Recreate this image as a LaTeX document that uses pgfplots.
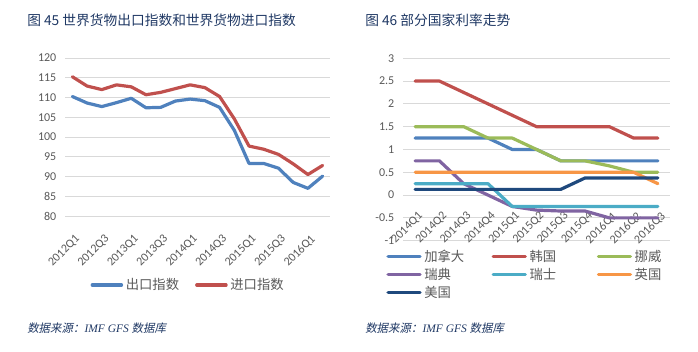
\documentclass[border=0pt]{standalone}
\usepackage{pgfplots}
\pgfplotsset{compat=1.18}
\usepackage{fontspec}
\setmainfont{Carlito}
\newfontfamily\cjk{Noto Sans CJK SC}
\newfontfamily\cjkslant[FakeSlant=0.2]{Noto Sans CJK SC}
\newfontfamily\serifit{Liberation Serif}
\definecolor{ttl}{RGB}{31,56,100}
\definecolor{tk}{RGB}{89,89,89}
\definecolor{grd}{RGB}{217,217,217}
\definecolor{cblue}{RGB}{79,129,189}
\definecolor{cred}{RGB}{192,80,77}
\definecolor{cgreen}{RGB}{155,187,89}
\definecolor{cpurple}{RGB}{128,100,162}
\definecolor{cteal}{RGB}{75,172,198}
\definecolor{corange}{RGB}{247,150,70}
\definecolor{cnavy}{RGB}{31,73,125}
\begin{document}
\begin{tikzpicture}
\path[use as bounding box] (0,0) rectangle (523.5pt,264pt);
\node[anchor=west,text=ttl,inner sep=0pt,font=\cjk\fontsize{10.3}{12}\selectfont] at (20.25pt,248.5pt) {图 45 世界货物出口指数和世界货物进口指数};
\node[anchor=west,text=ttl,inner sep=0pt,font=\cjk\fontsize{10.3}{12}\selectfont] at (273.75pt,248.5pt) {图 46 部分国家利率走势};
\node[anchor=west,text=ttl,inner sep=0pt,font=\fontsize{8.6}{10}\selectfont] at (20.25pt,18pt) {{\cjkslant 数据来源：}{\serifit\itshape IMF GFS }{\cjkslant 数据库}};
\node[anchor=west,text=ttl,inner sep=0pt,font=\fontsize{8.6}{10}\selectfont] at (273.75pt,18pt) {{\cjkslant 数据来源：}{\serifit\itshape IMF GFS }{\cjkslant 数据库}};

\begin{axis}[
  at={(48.75pt,102pt)}, anchor=south west,
  scale only axis, width=198.75pt, height=118.5pt,
  xmin=-0.5, xmax=17.5, ymin=80, ymax=120,
  axis line style={draw=none}, major tick length=0pt,
  ymajorgrids, grid style={grd, line width=0.6pt},
  ytick={80,85,...,120},
  xtick={0,2,...,16},
  xticklabels={2012Q1,2012Q3,2013Q1,2013Q3,2014Q1,2014Q3,2015Q1,2015Q3,2016Q1},
  tick label style={font=\fontsize{9}{10}\selectfont, text=tk},
  yticklabel style={/pgf/number format/assume math mode=true, xshift=-3pt},
  xticklabel style={xshift=1.5pt, yshift=-8.5pt, rotate=45, anchor=north east},
  legend columns=2,
  legend style={draw=none, fill=none, at={(0.466,-0.437)}, anchor=center,
    font=\cjk\fontsize{10}{12}\selectfont, text=tk,
    /tikz/every even column/.append style={column sep=10pt}},
  legend image code/.code={\draw[#1,line width=2.4pt,line cap=round] (0pt,0pt) -- (22pt,0pt);},
  every axis plot/.append style={line width=2.4pt, line join=round, line cap=round},
]
\addplot[cblue] coordinates {(0,110.25)(1,108.6)(2,107.7)(3,108.7)(4,109.8)(5,107.4)(6,107.5)(7,109.1)(8,109.6)(9,109.2)(10,107.5)(11,101.7)(12,93.3)(13,93.3)(14,92.1)(15,88.5)(16,87.0)(17,90.1)};
\addlegendentry{出口指数}
\addplot[cred] coordinates {(0,115.25)(1,112.9)(2,112.0)(3,113.2)(4,112.7)(5,110.7)(6,111.3)(7,112.25)(8,113.2)(9,112.5)(10,110.25)(11,104.6)(12,97.7)(13,96.9)(14,95.6)(15,93.2)(16,90.5)(17,92.8)};
\addlegendentry{进口指数}
\end{axis}

\begin{axis}[
  at={(302.25pt,83.5pt)}, anchor=south west,
  scale only axis, width=200.25pt, height=136.8pt,
  xmin=-0.5, xmax=10.5, ymin=-1, ymax=3,
  axis x line*=middle, axis y line*=left,
  hide obscured x ticks=false, hide obscured y ticks=false,
  axis line style={draw=none}, major tick length=0pt,
  ymajorgrids, grid style={grd, line width=0.6pt},
  ytick={-1,-0.5,0,0.5,1,1.5,2,2.5,3},
  yticklabels={-1,-0.5,0,0.5,1,1.5,2,2.5,3},
  yticklabel style={xshift=-3pt},
  xtick={0,...,10},
  xticklabels={2014Q1,2014Q2,2014Q3,2014Q4,2015Q1,2015Q2,2015Q3,2015Q4,2016Q1,2016Q2,2016Q3},
  tick label style={font=\fontsize{9}{10}\selectfont, text=tk},
  xticklabel style={xshift=1.7pt, yshift=-7pt, rotate=45, anchor=north east},
  legend columns=3,
  legend cell align=left,
  legend style={draw=none, fill=none, at={(-0.078,-0.02)}, anchor=north west,
    font=\cjk\fontsize{10}{12}\selectfont, text=tk, row sep=-0.5pt},
  legend image code/.code={\draw[#1,line width=2.4pt,line cap=round] (0pt,0pt) -- (24pt,0pt);},
  every axis plot/.append style={line width=2.4pt, line join=round, line cap=round},
]
\addplot[cblue] coordinates {(0,1.25)(1,1.25)(2,1.25)(3,1.25)(4,1.0)(5,1.0)(6,0.75)(7,0.75)(8,0.75)(9,0.75)(10,0.75)};
\addlegendentry{\makebox[48.5pt][l]{加拿大}}
\addplot[cred] coordinates {(0,2.5)(1,2.5)(2,2.25)(3,2.0)(4,1.75)(5,1.5)(6,1.5)(7,1.5)(8,1.5)(9,1.25)(10,1.25)};
\addlegendentry{\makebox[48.5pt][l]{韩国}}
\addplot[cgreen] coordinates {(0,1.5)(1,1.5)(2,1.5)(3,1.25)(4,1.25)(5,1.0)(6,0.75)(7,0.75)(8,0.64)(9,0.5)(10,0.5)};
\addlegendentry{挪威}
\addplot[cpurple] coordinates {(0,0.75)(1,0.75)(2,0.25)(3,0.0)(4,-0.25)(5,-0.33)(6,-0.35)(7,-0.35)(8,-0.5)(9,-0.5)(10,-0.5)};
\addlegendentry{\makebox[48.5pt][l]{瑞典}}
\addplot[cteal] coordinates {(0,0.25)(1,0.25)(2,0.25)(3,0.25)(4,-0.25)(5,-0.25)(6,-0.25)(7,-0.25)(8,-0.25)(9,-0.25)(10,-0.25)};
\addlegendentry{\makebox[48.5pt][l]{瑞士}}
\addplot[corange] coordinates {(0,0.5)(1,0.5)(2,0.5)(3,0.5)(4,0.5)(5,0.5)(6,0.5)(7,0.5)(8,0.5)(9,0.5)(10,0.25)};
\addlegendentry{英国}
\addplot[cnavy] coordinates {(0,0.125)(1,0.125)(2,0.125)(3,0.125)(4,0.125)(5,0.125)(6,0.125)(7,0.375)(8,0.375)(9,0.375)(10,0.375)};
\addlegendentry{\makebox[48.5pt][l]{美国}}
\end{axis}
\end{tikzpicture}
\end{document}
